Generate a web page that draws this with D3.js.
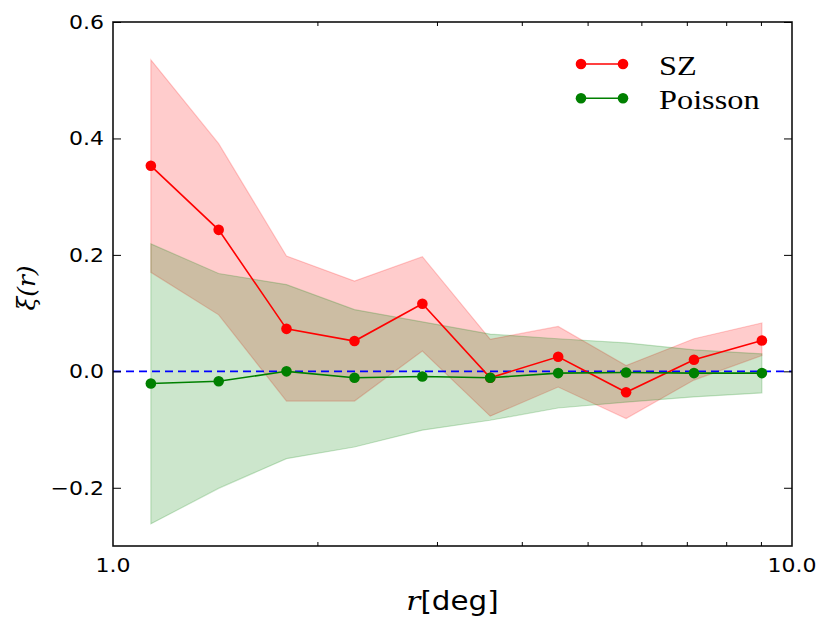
<!DOCTYPE html>
<html><head><meta charset="utf-8">
<script src="https://cdn.jsdelivr.net/npm/d3@7"></script>
<style>body{margin:0;background:#fff}</style>
</head><body>
<svg id="chart" width="830" height="627"></svg>
<script>
const r = [1.137, 1.431, 1.801, 2.268, 2.855, 3.594, 4.525, 5.697, 7.172, 9.029];
const szValues = [0.353, 0.243, 0.073, 0.052, 0.116, -0.011, 0.025, -0.036, 0.020, 0.053];
const szUpper = [0.535, 0.391, 0.198, 0.155, 0.197, 0.055, 0.077, 0.010, 0.056, 0.083];
const szLower = [0.170, 0.097, -0.051, -0.051, 0.035, -0.077, -0.027, -0.081, -0.015, 0.027];
const poissonValues = [-0.021, -0.017, 0.000, -0.011, -0.009, -0.011, -0.003, -0.002, -0.003, -0.003];
const poissonUpper = [0.219, 0.168, 0.149, 0.106, 0.085, 0.064, 0.056, 0.049, 0.037, 0.030];
const poissonLower = [-0.262, -0.201, -0.150, -0.130, -0.101, -0.084, -0.063, -0.053, -0.044, -0.037];
const yTicks = [-0.2, 0.0, 0.2, 0.4, 0.6];
const xTicks = [1, 10];
const xMinorTicks = [2, 3, 4, 5, 6, 7, 8, 9];
const seriesNames = ["SZ", "Poisson"];

const svg = d3.select("#chart");
const m = {l: 113, r: 792, t: 22, b: 546};
const x = d3.scaleLog().domain([1, 10]).range([m.l, m.r]);
const y = d3.scaleLinear().domain([-0.3, 0.6]).range([m.b, m.t]);
const SX = 1.1; // horizontal stretch of text seen in the reference

const series = [
  {name: seriesNames[0], color: "red", v: szValues, up: szUpper, lo: szLower},
  {name: seriesNames[1], color: "green", v: poissonValues, up: poissonUpper, lo: poissonLower}
];
const idx = r.map((_, i) => i);

const g = svg.append("g");
series.forEach(s => {
  g.append("path").datum(idx)
    .attr("d", d3.area().x(i => x(r[i])).y0(i => y(s.lo[i])).y1(i => y(s.up[i])))
    .attr("fill", s.color).attr("fill-opacity", 0.2)
    .attr("stroke", s.color).attr("stroke-opacity", 0.2).attr("stroke-width", 1.2);
});

g.append("line").attr("x1", m.l).attr("x2", m.r).attr("y1", y(0)).attr("y2", y(0))
  .attr("stroke", "#0000ff").attr("stroke-width", 1.6).attr("stroke-dasharray", "8,5");

series.forEach(s => {
  g.append("path").datum(idx)
    .attr("d", d3.line().x(i => x(r[i])).y(i => y(s.v[i])))
    .attr("fill", "none").attr("stroke", s.color).attr("stroke-width", 1.6);
  g.selectAll(null).data(idx).enter().append("circle")
    .attr("cx", i => x(r[i])).attr("cy", i => y(s.v[i])).attr("r", 5.3)
    .attr("fill", s.color);
});

svg.append("rect").attr("x", m.l).attr("y", m.t).attr("width", m.r - m.l).attr("height", m.b - m.t)
  .attr("fill", "none").attr("stroke", "#111").attr("stroke-width", 1.6);

const tickFont = "'DejaVu Sans', sans-serif";
function ticksOnly(sel) { sel.select(".domain").remove(); sel.selectAll(".tick text").remove(); return sel; }
ticksOnly(svg.append("g").attr("transform", `translate(${m.l},0)`)
  .call(d3.axisLeft(y).tickValues(yTicks).tickSize(-8)));
ticksOnly(svg.append("g").attr("transform", `translate(${m.r},0)`)
  .call(d3.axisRight(y).tickValues(yTicks).tickSize(-8)));
ticksOnly(svg.append("g").attr("transform", `translate(0,${m.b})`)
  .call(d3.axisBottom(x).tickValues(xMinorTicks).tickSize(-4)));
ticksOnly(svg.append("g").attr("transform", `translate(0,${m.t})`)
  .call(d3.axisTop(x).tickValues(xMinorTicks).tickSize(-4)));
svg.selectAll(".tick line").attr("stroke", "#000").attr("stroke-width", 1);

// tick labels
svg.append("g").selectAll("text").data(yTicks).enter().append("text")
  .attr("transform", d => `translate(104,${y(d) + 7}) scale(${SX},1)`)
  .attr("text-anchor", "end").attr("font-family", tickFont).attr("font-size", 20).attr("fill", "#000")
  .text(d => (d < 0 ? "\u2212" : "") + Math.abs(d).toFixed(1));
svg.append("g").selectAll("text").data(xTicks).enter().append("text")
  .attr("transform", d => `translate(${x(d)},572) scale(${SX},1)`)
  .attr("text-anchor", "middle").attr("font-family", tickFont).attr("font-size", 20).attr("fill", "#000")
  .text(d => d.toFixed(1));

// axis labels
const xl = svg.append("text").attr("transform", `translate(${(m.l + m.r) / 2},610) scale(1.13,1)`)
  .attr("text-anchor", "middle").attr("font-size", 26).attr("fill", "#000");
xl.append("tspan").attr("font-family", "'DejaVu Serif', serif").attr("font-style", "italic").text("r");
xl.append("tspan").attr("font-family", tickFont).text("[deg]");

svg.append("text").attr("transform", `translate(35,288) rotate(-90)`)
  .attr("text-anchor", "middle").attr("font-family", "'DejaVu Serif', serif").attr("font-style", "italic")
  .attr("font-size", 25).attr("fill", "#000").text("\u03BE(r)");

// legend
const leg = svg.append("g");
series.forEach((s, i) => {
  const ly = 64 + i * 34.3;
  leg.append("line").attr("x1", 581).attr("x2", 623).attr("y1", ly).attr("y2", ly)
    .attr("stroke", s.color).attr("stroke-width", 1.6);
  [581, 623].forEach(cx => leg.append("circle").attr("cx", cx).attr("cy", ly).attr("r", 5.3).attr("fill", s.color));
  leg.append("text").attr("transform", `translate(659,${ly + 10.5}) scale(1.22,1)`)
    .attr("font-family", "'Liberation Serif', serif")
    .attr("font-size", 26.5).attr("fill", "#000").text(s.name);
});
</script>
</body></html>
